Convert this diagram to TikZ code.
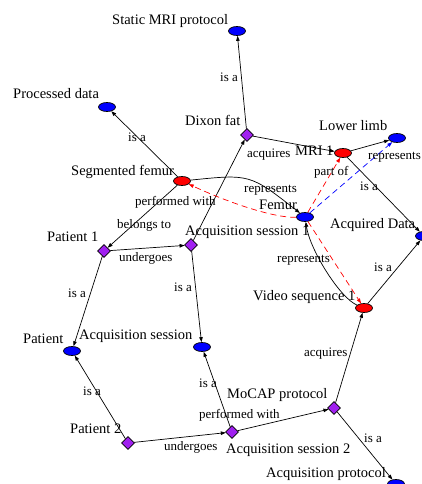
\documentclass[tikz,border=0pt]{standalone}
\usepackage{fontspec}
\setmainfont{Liberation Serif}
\usetikzlibrary{shapes.geometric,arrows.meta}
\definecolor{gvpurple}{RGB}{160,32,240}
\begin{document}
\begin{tikzpicture}[x=1pt,y=-1pt,
 ent/.style={ellipse,draw=black,line width=0.7pt,minimum width=17pt,minimum height=9pt,inner sep=0pt},
 blueent/.style={ent,fill=blue},
 redent/.style={ent,fill=red},
 inst/.style={diamond,draw=black,line width=0.7pt,fill=gvpurple,minimum width=13pt,minimum height=13pt,inner sep=0pt},
 nlab/.style={anchor=base west,inner sep=0pt,font=\fontsize{14.5}{16}\selectfont},
 elab/.style={anchor=base west,inner sep=0pt,font=\fontsize{13}{15}\selectfont},
 rel/.style={draw=black,line width=0.7pt,-{Triangle[length=5pt,width=3.5pt]}},
 infred/.style={draw=red,line width=0.7pt,dash pattern=on 6pt off 4pt,-{Triangle[length=5pt,width=3.5pt]}},
 infblue/.style={draw=blue,line width=0.7pt,dash pattern=on 6pt off 4pt,-{Triangle[length=5pt,width=3.5pt]}}
]
\clip (0,0) rectangle (422,484);
% nodes
\node[blueent] (smp) at (237,31) {};
\node[blueent] (pd) at (107,107) {};
\node[inst] (dix) at (247,135) {};
\node[blueent] (ll) at (397,138) {};
\node[redent] (mri) at (343,153) {};
\node[redent] (sf) at (182,181) {};
\node[blueent] (fem) at (305,217) {};
\node[inst] (as1) at (191,245) {};
\node[blueent] (ad) at (424,236) {};
\node[inst] (p1) at (104,251) {};
\node[redent] (vs) at (364,308) {};
\node[blueent] (pat) at (72,351) {};
\node[blueent] (as) at (202,347) {};
\node[inst] (moc) at (334,408) {};
\node[inst] (p2) at (128,443) {};
\node[inst] (as2) at (232,432) {};
\node[blueent] (ap) at (396,484) {};
% node labels
\node[nlab] (lsmp) at (112,25) {Static MRI protocol};
\node[nlab] (lpd) at (13,99) {Processed data};
\node[nlab] (ldix) at (185,125) {Dixon fat};
\node[nlab] (lll) at (319,131) {Lower limb};
\node[nlab] (lmri) at (295,155) {MRI 1};
\node[nlab] (lsf) at (71,175) {Segmented femur};
\node[nlab] (lfem) at (259,209) {Femur};
\node[nlab] (las1) at (185,235) {Acquisition session 1};
\node[nlab] (lad) at (330,228) {Acquired Data};
\node[nlab] (lp1) at (47,241) {Patient 1};
\node[nlab] (lvs) at (253,300) {Video sequence 1};
\node[nlab] (lpat) at (23,343) {Patient};
\node[nlab] (las) at (79,339) {Acquisition session};
\node[nlab] (lmoc) at (227,398) {MoCAP protocol};
\node[nlab] (lp2) at (70,433) {Patient 2};
\node[nlab] (las2) at (226,453) {Acquisition session 2};
\node[nlab] (lap) at (266,477) {Acquisition protocol};
% edges
\draw[rel] (dix) -- (smp);
\draw[rel] (sf) -- (pd);
\draw[rel] (dix) -- (mri);
\draw[rel] (mri) -- (ll);
\draw[rel] (mri) -- (ad);
\draw[rel] (sf) .. controls (250,174) .. (fem);
\draw[rel] (as1) -- (dix);
\draw[rel] (sf) -- (p1);
\draw[rel] (p1) -- (as1);
\draw[rel] (p1) -- (pat);
\draw[rel] (as1) -- (as);
\draw[rel] (vs) .. controls (340,298) and (310,250) .. (fem);
\draw[rel] (vs) -- (ad);
\draw[rel] (p2) -- (pat);
\draw[rel] (as2) -- (as);
\draw[rel] (p2) -- (as2);
\draw[rel] (as2) -- (moc);
\draw[rel] (moc) -- (vs);
\draw[rel] (moc) -- (ap);
\draw[infred] (fem) .. controls (272,218) and (225,201) .. (sf);
\draw[infred] (fem) -- (mri);
\draw[infred] (fem) -- (vs);
\draw[infblue] (fem) -- (ll);
% edge labels
\node[elab] (e1) at (220,82) {is a};
\node[elab] (e2) at (128,141) {is a};
\node[elab] (e3) at (247,157) {acquires};
\node[elab] (e4) at (368,159) {represents};
\node[elab] (e5) at (314,175) {part of};
\node[elab] (e6) at (360,190) {is a};
\node[elab] (e7) at (244,192) {represents};
\node[elab] (e8) at (135,205) {performed with};
\node[elab] (e9) at (117,228) {belongs to};
\node[elab] (e10) at (119,261) {undergoes};
\node[elab] (e11) at (68,297) {is a};
\node[elab] (e12) at (174,291) {is a};
\node[elab] (e13) at (277,262) {represents};
\node[elab] (e14) at (374,271) {is a};
\node[elab] (e15) at (83,395) {is a};
\node[elab] (e16) at (199,387) {is a};
\node[elab] (e17) at (199,418) {performed with};
\node[elab] (e18) at (164,450) {undergoes};
\node[elab] (e19) at (304,356) {acquires};
\node[elab] (e20) at (364,442) {is a};
\end{tikzpicture}
\end{document}
